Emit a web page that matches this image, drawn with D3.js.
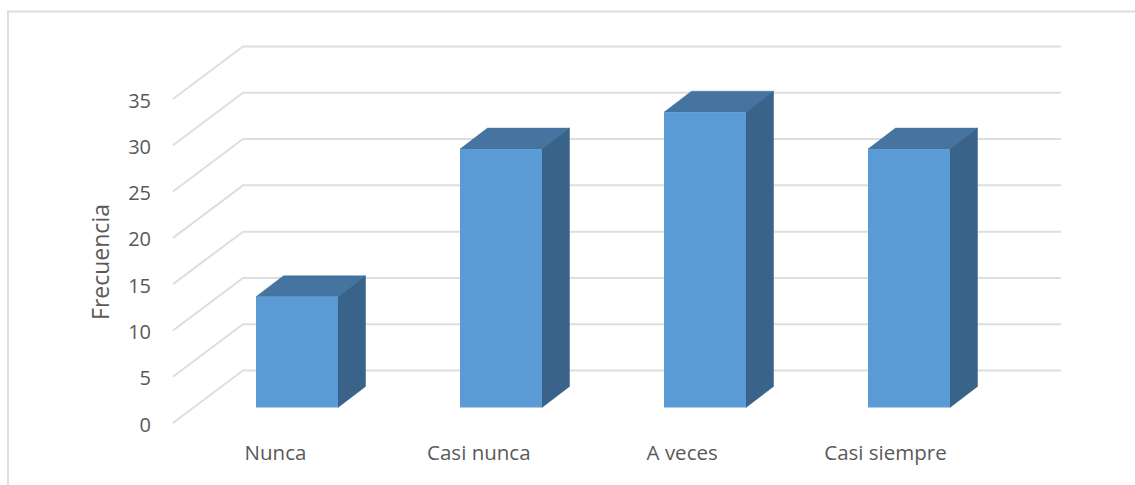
<!DOCTYPE html>
<html><head><meta charset="utf-8">
<script src="https://cdn.jsdelivr.net/npm/d3@7"></script>
<style>html,body{margin:0;padding:0;background:#fff}svg{display:block}text{font-family:"Open Sans",sans-serif;fill:#595959}</style>
</head><body><svg id="c" width="1135" height="485"></svg>
<script>
const categories = ["Nunca","Casi nunca","A veces","Casi siempre"];
const values = [12,28,32,28];
const yTicks = [0,5,10,15,20,25,30,35];
const axisTitle = "Frecuencia";

const svg = d3.select("#c");
const W = 1135, H = 485;
// frame
svg.append("path").attr("d",`M${W},11.5H8V${H}`).attr("fill","none").attr("stroke","#dedede").attr("stroke-width",2);

const y = d3.scaleLinear().domain([0,35]).range([424,100]);
const wall = {dx:70, dy:-54};
const x0 = 173, x1 = 1061;
const grid = svg.append("g");
yTicks.forEach(t=>{
  const yy = y(t);
  grid.append("path")
    .attr("d",`M${x0},${yy-1}L${x0+wall.dx},${yy+wall.dy+.5}H${x1}`)
    .attr("fill","none").attr("stroke","#dedede").attr("stroke-width",2);
  svg.append("text").attr("x",151).attr("y",yy+0.5).attr("dy","0.35em")
    .attr("text-anchor","end").attr("font-size",20).text(t);
});

const band = d3.scaleBand().domain(categories).range([195,1011]);
const labelX = d3.scalePoint().domain(categories).range([275.5,885.5]);
const barW = 82, depth = {dx:27.5, dy:-21};
const base = 407.5;
const scaleH = d3.scaleLinear().domain([0,35]).range([0,323]);
const barX = c => band(c)+band.bandwidth()/2 - barW/2;

const bars = svg.append("g").selectAll("g").data(categories.map((c,i)=>({c,v:values[i]}))).join("g");
bars.append("path").attr("fill","#44749f").attr("stroke","#44749f").attr("stroke-width",.5)
  .attr("d",d=>{const l=barX(d.c),t=base-scaleH(d.v);return `M${l},${t}L${l+depth.dx},${t+depth.dy}H${l+barW+depth.dx}L${l+barW},${t}Z`;});
bars.append("path").attr("fill","#396388").attr("stroke","#396388").attr("stroke-width",.5)
  .attr("d",d=>{const r=barX(d.c)+barW,t=base-scaleH(d.v);return `M${r},${t}L${r+depth.dx},${t+depth.dy}V${base+depth.dy}L${r},${base}Z`;});
bars.append("rect").attr("fill","#5b9bd5")
  .attr("x",d=>barX(d.c)).attr("width",barW)
  .attr("y",d=>base-scaleH(d.v)).attr("height",d=>scaleH(d.v));

svg.append("g").selectAll("text").data(categories).join("text")
  .attr("x",c=>labelX(c)).attr("y",460).attr("text-anchor","middle")
  .attr("font-size",20.5).text(d=>d);

svg.append("text").attr("transform","translate(109,262) rotate(-90)")
  .attr("text-anchor","middle").attr("font-size",23).text(axisTitle);
</script></body></html>
